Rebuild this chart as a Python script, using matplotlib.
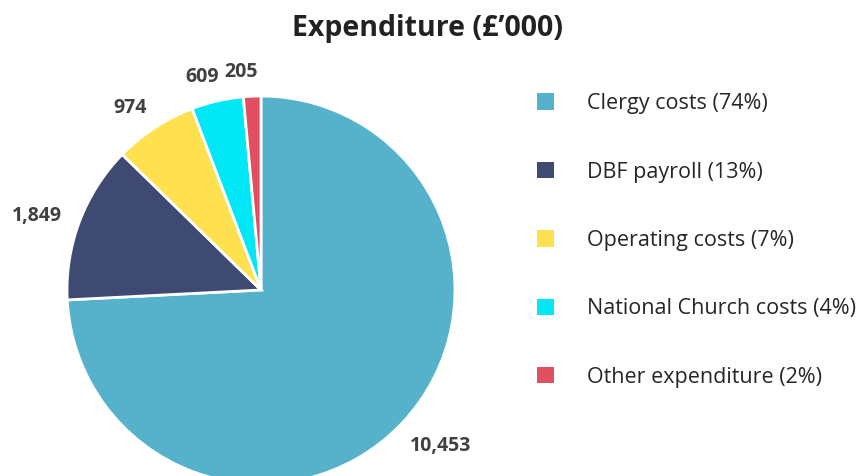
import numpy as np
import matplotlib.pyplot as plt
from matplotlib.patches import Patch

plt.rcParams['font.family'] = ['Open Sans', 'DejaVu Sans']

# data
categories = ['Clergy costs', 'DBF payroll', 'Operating costs',
              'National Church costs', 'Other expenditure']
values = [10453, 1849, 974, 609, 205]
percents = [74, 13, 7, 4, 2]
colors = ['#56B1CB', '#3F4A73', '#FFE150', '#00E8F6', '#E05062']

fig = plt.figure(figsize=(8.56, 4.76), dpi=100)

# pie sits with its bottom cut by the figure edge
r = 194
cx, cy = 261, 476 - 290
ax = fig.add_axes([(cx - r) / 856, (cy - r) / 476, 2 * r / 856, 2 * r / 476])
wedges, _ = ax.pie(values, colors=colors, startangle=90, counterclock=False,
                   wedgeprops={'edgecolor': 'white', 'linewidth': 2})
ax.set_xlim(-1, 1)
ax.set_ylim(-1, 1)
ax.set_aspect('equal')

# data labels just outside the rim, pushed out by their own half size
for w, v in zip(wedges, values):
    a = np.deg2rad((w.theta1 + w.theta2) / 2 + 2.5)
    s = f'{v:,}'
    half_w = len(s) * 5.2 / r
    half_h = 10 / r
    d = 1.07 + half_w * abs(np.cos(a)) + half_h * abs(np.sin(a))
    ax.text(d * np.cos(a), d * np.sin(a), s, ha='center', va='center',
            fontsize=14, fontweight='bold', color='#404040', clip_on=False)

fig.text(0.5, 0.94, 'Expenditure (£’000)', ha='center', va='center',
         fontsize=20.5, fontweight='bold', color='#222222')

handles = [Patch(facecolor=c, edgecolor='none') for c in colors]
labels = [f'{c} ({p}%)' for c, p in zip(categories, percents)]
fig.legend(handles, labels, loc='upper left', bbox_to_anchor=(0.605, 0.845),
           frameon=False, fontsize=15.5, handlelength=0.8, handleheight=0.8,
           handletextpad=1.5, labelspacing=2.2, labelcolor='#262626')

fig.savefig('out.png', dpi=100)
